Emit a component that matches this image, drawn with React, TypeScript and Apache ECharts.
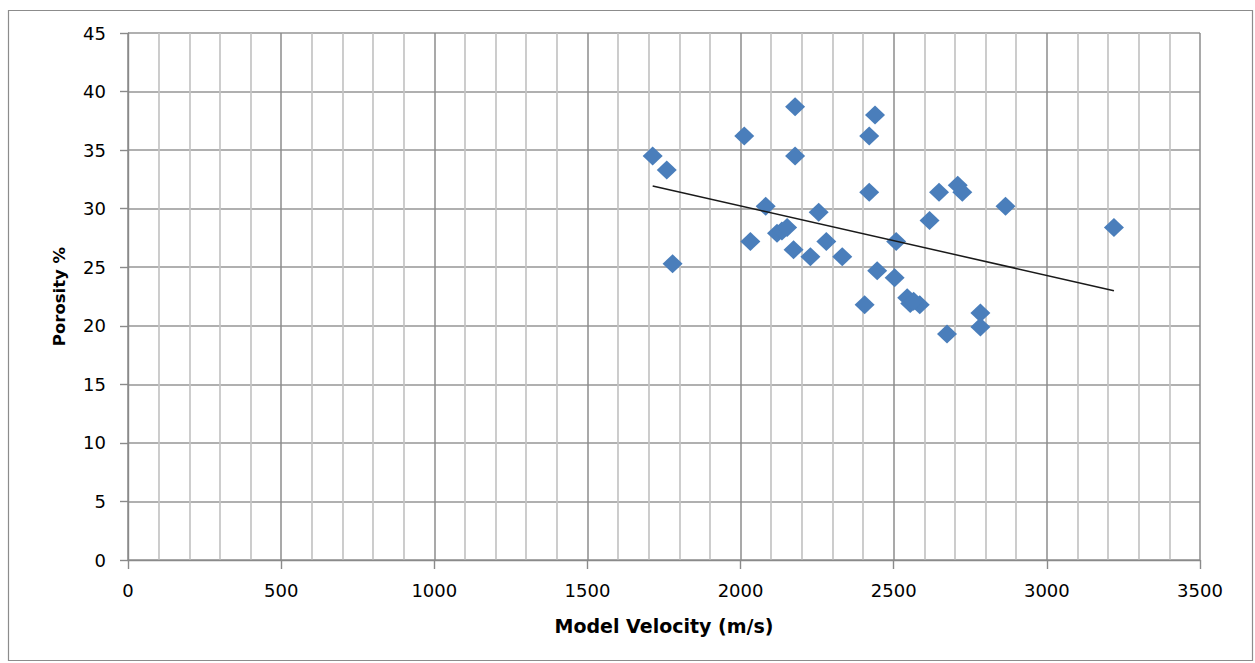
import React, { useEffect, useRef } from "react";
import * as echarts from "echarts";

const velocity = [
  1713, 1759, 1778, 2012, 2178, 2178, 2439, 2420, 2420, 2648,
  2082, 2255, 2617, 2032, 2119, 2135, 2152, 2173, 2228, 2280,
  2332, 2508, 2446, 2503, 2405, 2544, 2554, 2585, 2565, 2709,
  2724, 2674, 2783, 2783, 2865, 3219,
];
const porosity = [
  34.5, 33.3, 25.3, 36.2, 38.7, 34.5, 38.0, 36.2, 31.4, 31.4,
  30.2, 29.7, 29.0, 27.2, 27.9, 28.1, 28.4, 26.5, 25.9, 27.2,
  25.9, 27.2, 24.7, 24.1, 21.8, 22.4, 21.9, 21.8, 22.1, 32.0,
  31.4, 19.3, 21.1, 19.9, 30.2, 28.4,
];
const trendVelocity = [1713, 3219];
const trendPorosity = [31.94, 23.0];

const xTitle = "Model Velocity (m/s)";
const yTitle = "Porosity %";

export default function App() {
  const ref = useRef<HTMLDivElement>(null);
  useEffect(() => {
    document.body.style.margin = "0";
    const chart = echarts.init(ref.current!, undefined, { renderer: "svg" });
    const font = "DejaVu Sans, Verdana, sans-serif";
    chart.setOption({
      animation: false,
      backgroundColor: "#ffffff",
      graphic: [
        {
          type: "rect",
          shape: { x: 8.5, y: 10.5, width: 1244, height: 650 },
          style: { fill: "none", stroke: "#8c8c8c", lineWidth: 1.2 },
          silent: true,
        },
      ],
      grid: { left: 128, right: 55, top: 33, bottom: 103 },
      xAxis: {
        type: "value",
        min: 0,
        max: 3500,
        interval: 500,
        name: xTitle,
        nameLocation: "middle",
        nameGap: 56,
        nameTextStyle: { fontFamily: font, fontSize: 19, fontWeight: "bold", color: "#000" },
        axisLine: { show: true, lineStyle: { color: "#8a8a8a", width: 1.4 } },
        axisTick: { show: true, length: 9, lineStyle: { color: "#8a8a8a", width: 1.4 } },
        axisLabel: {
          fontFamily: font,
          fontSize: 18,
          color: "#000",
          margin: 21,
          formatter: (v: number) => String(v),
        },
        splitLine: { show: true, lineStyle: { color: "#8c8c8c", width: 1.5 } },
        minorTick: { show: false, splitNumber: 5 },
        minorSplitLine: { show: true, lineStyle: { color: "#c4c4c4", width: 1.7 } },
      },
      yAxis: {
        type: "value",
        min: 0,
        max: 45,
        interval: 5,
        name: yTitle,
        nameLocation: "middle",
        nameGap: 60,
        nameTextStyle: { fontFamily: font, fontSize: 16.5, fontWeight: "bold", color: "#000" },
        axisLine: { show: true, lineStyle: { color: "#8a8a8a", width: 1.4 } },
        axisTick: { show: true, length: 8, lineStyle: { color: "#8a8a8a", width: 1.4 } },
        axisLabel: { fontFamily: font, fontSize: 18, color: "#000", margin: 22 },
        splitLine: { show: true, lineStyle: { color: "#969696", width: 1.5 } },
      },
      series: [
        {
          type: "scatter",
          data: velocity.map((v, i) => [v, porosity[i]]),
          symbol: "diamond",
          symbolSize: [20, 19],
          itemStyle: { color: "#4A7EBB", opacity: 1 },
          z: 3,
        },
        {
          type: "line",
          data: trendVelocity.map((v, i) => [v, trendPorosity[i]]),
          showSymbol: false,
          symbol: "none",
          lineStyle: { color: "#1a1a1a", width: 1.5 },
          z: 4,
        },
      ],
    });
    return () => chart.dispose();
  }, []);
  return <div ref={ref} style={{ width: 1255, height: 663 }} />;
}
